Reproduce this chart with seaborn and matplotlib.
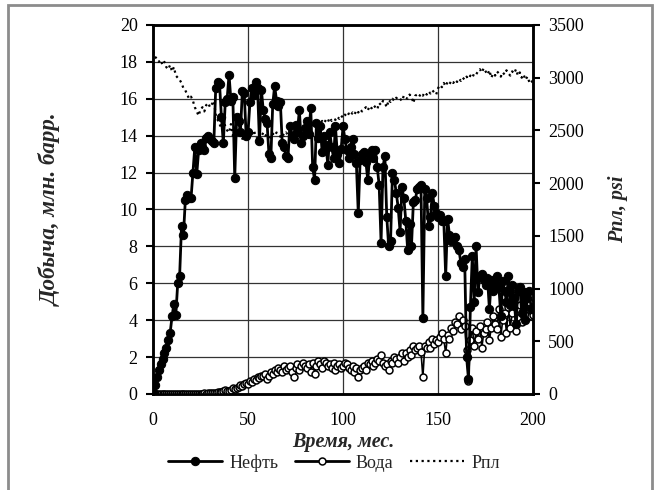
import numpy as np
import pandas as pd
import matplotlib
matplotlib.use("Agg")
import matplotlib.pyplot as plt
import seaborn as sns
from matplotlib.patches import Rectangle

# ---------------- data ----------------
months = list(range(0, 201))

oil = [
    0.1, 0.5, 0.9, 1.3, 1.6, 1.9, 2.2, 2.5, 2.9, 3.3,
    4.2, 4.9, 4.3, 6.0, 6.4, 9.1, 8.6, 10.5, 10.8, 10.6,
    10.6, 12.0, 13.4, 11.9, 13.2, 13.6, 13.4, 13.2, 13.9, 14.0,
    13.8, 13.7, 13.6, 16.6, 16.9, 16.8, 15.0, 13.6, 15.8, 16.0,
    17.3, 15.9, 16.1, 11.7, 15.0, 14.8, 14.2, 16.4, 16.3, 14.0,
    14.2, 15.8, 16.6, 16.2, 16.9, 16.6, 13.7, 16.5, 15.4, 14.9,
    14.7, 13.0, 12.8, 15.7, 16.7, 15.9, 15.6, 15.8, 13.6, 13.4,
    12.9, 12.8, 14.5, 14.0, 13.8, 14.6, 14.2, 15.4, 13.6, 14.0,
    14.4, 14.8, 14.1, 15.5, 12.3, 11.6, 14.7, 13.9, 14.5, 13.1,
    14.0, 13.5, 12.4, 14.2, 13.4, 12.8, 14.5, 13.0, 12.5, 13.3,
    14.5, 13.8, 13.2, 12.8, 13.4, 13.8, 13.0, 12.5, 9.8, 12.7,
    13.0, 13.1, 12.6, 11.6, 12.9, 13.2, 12.8, 13.2, 12.3, 11.3,
    8.2, 12.3, 12.9, 9.6, 8.0, 8.3, 12.0, 11.6, 10.9, 10.1,
    8.8, 11.2, 10.6, 9.4, 7.8, 9.2, 8.0, 10.4, 10.5, 11.1,
    11.2, 11.3, 4.1, 11.1, 10.6, 9.1, 9.6, 10.9, 10.2, 9.8,
    9.6, 9.7, 9.4, 9.4, 6.4, 9.5, 8.6, 8.3, 8.4, 8.5,
    8.0, 7.8, 7.1, 6.9, 7.3, 2.0, 0.8, 4.7, 7.5, 5.0,
    8.0, 5.5, 6.4, 6.5, 6.2, 5.9, 6.3, 4.6, 6.2, 5.6,
    6.0, 6.4, 5.8, 4.2, 6.1, 5.6, 5.0, 6.4, 4.8, 5.9,
    5.2, 3.8, 5.6, 5.8, 4.4, 5.5, 4.0, 5.2, 5.6, 4.6,
    4.6,
]

water = [
    0, 0, 0, 0, 0, 0, 0, 0, 0, 0,
    0, 0, 0, 0, 0, 0, 0, 0, 0, 0,
    0, 0.01, 0, 0.01, 0.02, 0.01, 0.02, 0.03, 0.02, 0.03,
    0.04, 0.05, 0.04, 0.06, 0.08, 0.12, 0.1, 0.15, 0.2, 0.18,
    0.15, 0.22, 0.3, 0.25, 0.35, 0.4, 0.5, 0.45, 0.55, 0.6,
    0.55, 0.7, 0.65, 0.8, 0.75, 0.9, 0.85, 1.0, 0.95, 1.1,
    0.8, 1.0, 1.2, 1.1, 1.3, 1.2, 1.4, 1.3, 1.2, 1.5,
    1.3, 1.4, 1.5, 1.2, 0.9, 1.4, 1.6, 1.3, 1.5, 1.7,
    1.5, 1.4, 1.6, 1.2, 1.7, 1.1, 1.5, 1.8, 1.6, 1.4,
    1.8, 1.7, 1.5, 1.6, 1.4, 1.7, 1.3, 1.5, 1.6, 1.4,
    1.5, 1.7, 1.6, 1.4, 1.3, 1.5, 1.2, 1.4, 0.9, 1.3,
    1.4, 1.5, 1.3, 1.7, 1.6, 1.8, 1.5, 1.7, 1.9, 1.8,
    2.1, 1.7, 1.5, 1.6, 1.3, 1.8, 1.7, 2.0, 1.9, 1.7,
    2.0, 2.2, 1.8, 2.2, 2.0, 2.4, 2.1, 2.6, 2.4, 2.5,
    2.6, 2.3, 0.9, 2.6, 2.5, 2.8, 2.5, 3.0, 2.7, 2.9,
    2.8, 3.1, 3.3, 3.0, 2.2, 3.2, 3.0, 3.6, 3.4, 3.9,
    3.8, 4.2, 3.5, 4.0, 3.7, 2.4, 0.7, 2.9, 3.6, 2.6,
    3.4, 3.0, 3.7, 2.5, 3.3, 3.5, 3.9, 2.9, 3.6, 4.2,
    3.8, 3.5, 4.6, 3.1, 4.0, 4.4, 3.3, 4.7, 3.6, 4.4,
    4.9, 3.4, 4.5, 4.8, 3.9, 5.1, 4.3, 5.5, 5.0, 4.2,
    4.3,
]

pressure = [
    3250, 3200, 3180, 3150, 3170, 3120, 3150, 3100, 3080, 3120,
    3060, 3100, 3020, 3000, 2980, 2950, 2900, 2880, 2840, 2800,
    2820, 2780, 2720, 2680, 2640, 2700, 2720, 2680, 2740, 2760,
    2720, 2750, 2780, 2650, 2600, 2560, 2520, 2600, 2540, 2500,
    2480, 2560, 2450, 2470, 2440, 2430, 2460, 2420, 2450, 2470,
    2480, 2440, 2460, 2500, 2450, 2420, 2460, 2440, 2480, 2450,
    2460, 2440, 2430, 2470, 2450, 2480, 2460, 2440, 2470, 2450,
    2480, 2460, 2500, 2470, 2490, 2510, 2480, 2520, 2500, 2540,
    2520, 2550, 2530, 2560, 2540, 2570, 2550, 2580, 2560, 2590,
    2570, 2600, 2580, 2620, 2590, 2610, 2600, 2630, 2610, 2640,
    2620, 2650, 2630, 2660, 2640, 2670, 2650, 2690, 2670, 2700,
    2680, 2700, 2720, 2690, 2730, 2710, 2740, 2720, 2700, 2760,
    2740, 2780, 2760, 2720, 2790, 2770, 2800, 2780, 2810, 2790,
    2800, 2780, 2830, 2810, 2800, 2840, 2820, 2760, 2830, 2840,
    2820, 2850, 2830, 2860, 2840, 2870, 2850, 2880, 2860, 2840,
    2900, 2930, 2910, 2950, 2920, 2960, 2940, 2970, 2950, 2980,
    2960, 2990, 2970, 3000, 2980, 3010, 2990, 3020, 3000, 3040,
    3030, 3060, 3080, 3050, 3090, 3060, 3030, 3070, 3000, 3040,
    3020, 3060, 3040, 3010, 3050, 3030, 3070, 3040, 3020, 3060,
    3040, 3080, 3020, 3050, 3000, 3030, 2980, 3010, 2960, 2980,
    2940,
]

x_ticks = [0, 50, 100, 150, 200]
left_ticks = [0, 2, 4, 6, 8, 10, 12, 14, 16, 18, 20]
right_ticks = [0, 500, 1000, 1500, 2000, 2500, 3000, 3500]

df = pd.DataFrame({"month": months, "oil": oil, "water": water, "p": pressure})

# ---------------- style ----------------
sns.set_style("white")
plt.rcParams["font.family"] = ["Liberation Serif", "DejaVu Serif"]

fig = plt.figure(figsize=(6.61, 4.90), dpi=100)
ax = fig.add_axes([0.2315, 0.196, 0.575, 0.753])
ax2 = ax.twinx()

sns.lineplot(data=df, x="month", y="oil", ax=ax, color="black", lw=2,
             marker="o", markersize=6, markeredgecolor="black",
             markerfacecolor="black", label="Нефть", legend=False, zorder=4)
sns.lineplot(data=df, x="month", y="water", ax=ax, color="black", lw=1.2,
             marker="o", markersize=5, markeredgecolor="black",
             markerfacecolor="white", markeredgewidth=1.1,
             label="Вода", legend=False, zorder=3)
sns.lineplot(data=df, x="month", y="p", ax=ax2, color="black", lw=1.6,
             linestyle=(0, (1, 1.6)), label="Рпл", legend=False)

ax.set_xlim(0, 200)
ax.set_ylim(0, 20)
ax2.set_ylim(0, 3500)
ax.set_xticks(x_ticks)
ax.set_yticks(left_ticks)
ax2.set_yticks(right_ticks)

ax.grid(True, color="#333333", lw=0.9)
ax2.grid(False)
ax.set_axisbelow(True)

for a in (ax, ax2):
    for s in a.spines.values():
        s.set_color("black")
        s.set_linewidth(1.8)

ax.tick_params(axis="both", direction="out", length=5, width=1.5,
               labelsize=13, colors="black", pad=6)
ax2.tick_params(axis="y", direction="out", length=5, width=1.5,
                labelsize=13, colors="black", pad=6)
ax.tick_params(axis="x", pad=8)

ax.set_xlabel("Время, мес.", fontsize=14.5, fontweight="bold",
              fontstyle="italic", labelpad=2)
ax.set_ylabel("Добыча, млн. барр.", fontsize=16.5, fontweight="bold",
              fontstyle="italic", labelpad=42)
ax2.set_ylabel("Рпл, psi", fontsize=14.5, fontweight="bold",
               fontstyle="italic", labelpad=17)

handles = [ax.lines[0], ax.lines[1], ax2.lines[0]]
leg = fig.legend(handles, ["Нефть", "Вода", "Рпл"], loc="center",
                 bbox_to_anchor=(0.505, 0.055), ncol=3, frameon=False,
                 fontsize=13, handlelength=3.0, columnspacing=0.9,
                 handletextpad=0.4)
for h in leg.legend_handles[:2]:
    h.set_linewidth(2)

# outer frame
fig.patches.append(Rectangle((8 / 661, -0.02), (652 - 8) / 661, 1.0 - 5 / 490 + 0.02,
                             transform=fig.transFigure, fill=False,
                             edgecolor="#8c8c8c", lw=2))

fig.savefig("out.png", dpi=100)
